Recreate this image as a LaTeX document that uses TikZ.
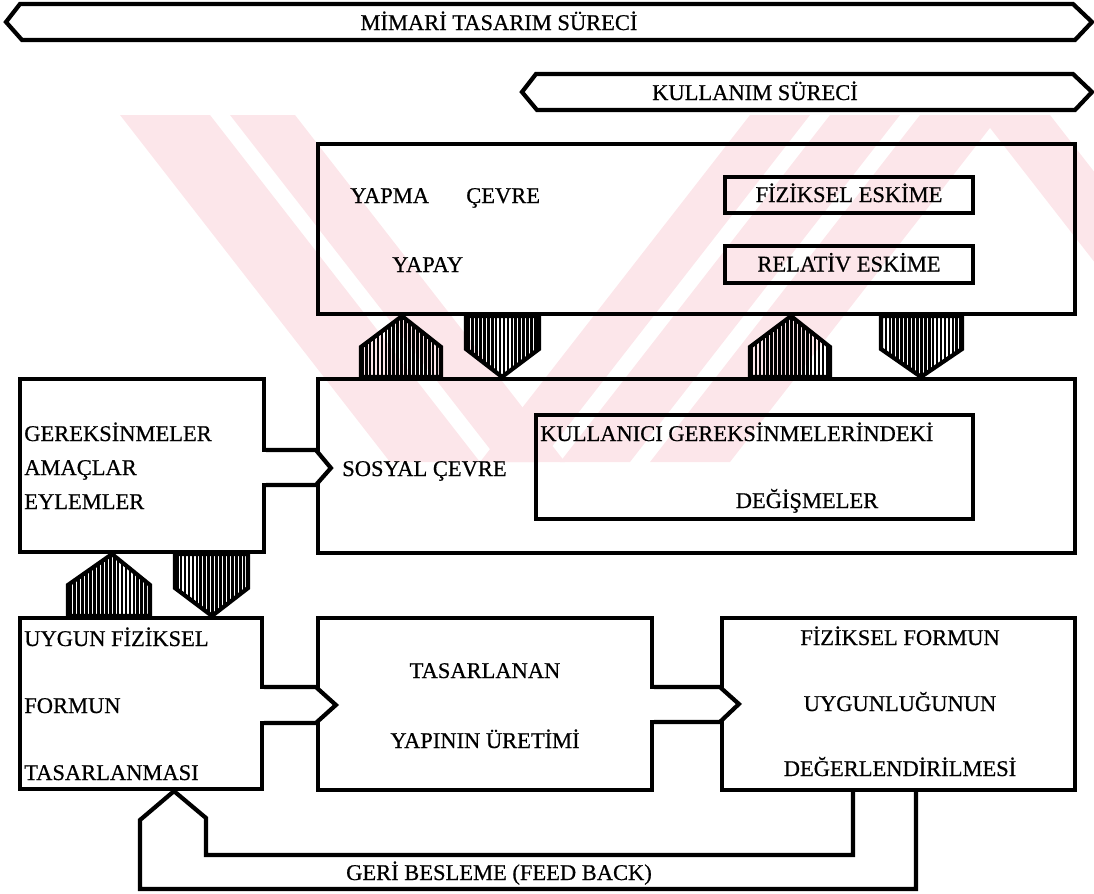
\documentclass[tikz,border=0pt]{standalone}
\usepackage{fontspec}
\setmainfont{Liberation Serif}
\newfontfamily\lblfont{Liberation Serif}[FakeBold=0.6]
\usetikzlibrary{positioning, fit, calc, patterns.meta}
\definecolor{wmark}{HTML}{FCE6EA}
\tikzstyle{box} = [draw, line width=3pt, inner sep=0pt]
\tikzstyle{lbl} = [font=\lblfont\fontsize{16}{19}\selectfont, inner sep=0pt]
\tikzstyle{hatch} = [draw, line width=3pt,
    pattern={Lines[angle=90, distance=2.8pt, line width=1.9pt]}]
\tikzstyle{shaft} = [line width=3pt]

\begin{document}
\begin{tikzpicture}[x=0.025cm, y=-0.025cm, line join=miter]
	\useasboundingbox (0,0) rectangle (1094,894);

	% watermark
	\begin{scope}
		\clip (0,115) rectangle (1094,462);
		\fill[wmark] (120,115) -- (210,115) -- (480,462) -- (390,462) -- cycle;
		\fill[wmark] (230,115) -- (295,115) -- (565,462) -- (500,462) -- cycle;
		\fill[wmark] (750,115) -- (810,115) -- (540,462) -- (480,462) -- cycle;
		\fill[wmark] (830,115) -- (900,115) -- (630,462) -- (560,462) -- cycle;
		\fill[wmark] (920,115) -- (1000,115) -- (730,462) -- (650,462) -- cycle;
		\fill[wmark] (980,115) -- (1050,115) -- (1320,462) -- (1250,462) -- cycle;
	\end{scope}

	% process banners
	\draw[shaft] (6,22) -- (20,4) -- (1073,4) -- (1092,22) -- (1075,40) -- (22,40) -- cycle;
	\node[lbl, anchor=base] (mimari) at (499,30) {MİMARİ TASARIM SÜRECİ};
	\draw[shaft] (522,92) -- (536,74) -- (1073,74) -- (1092,92) -- (1075,110) -- (537,110) -- cycle;
	\node[lbl, anchor=base] (kullanim) at (755,100) {KULLANIM SÜRECİ};

	% yapma cevre
	\node[box, fit={(318,144) (1075,314)}] (yapma) {};
	\node[lbl, anchor=base west] (yapmat) at (350,203) {YAPMA};
	\node[lbl, anchor=base west] (cevret) at (466,203) {ÇEVRE};
	\node[lbl, anchor=base west] (yapay) at (392,272) {YAPAY};
	\node[box, fit={(725,177) (973,213)}] (fizesk) {};
	\node[lbl, anchor=base] at ($(fizesk.center)+(0,7)$) (fizeskt) {FİZİKSEL ESKİME};
	\node[box, fit={(725,246) (973,283)}] (relesk) {};
	\node[lbl, anchor=base] at ($(relesk.center)+(0,7)$) (releskt) {RELATİV ESKİME};

	% sosyal cevre
	\node[box, fit={(318,379) (1075,553)}] (sosyal) {};
	\node[lbl, anchor=base west] (sosyalt) at (342,476) {SOSYAL ÇEVRE};
	\node[box, fit={(536,415) (973,519)}] (degis) {};
	\node[lbl, anchor=base west] (kullt) at (540,441) {KULLANICI GEREKSİNMELERİNDEKİ};
	\node[lbl, anchor=base] (degist) at (807,508) {DEĞİŞMELER};

	% gereksinmeler
	\node[box, fit={(20,379) (264,552)}] (gerek) {};
	\node[lbl, anchor=base west] (gerekt) at (24,441) {GEREKSİNMELER};
	\node[lbl, anchor=base west] (amac) at (24,475) {AMAÇLAR};
	\node[lbl, anchor=base west] (eylem) at (24,509) {EYLEMLER};

	% alt sira
	\node[box, fit={(20,618) (262,789)}] (uygun) {};
	\node[lbl, anchor=base west] (uygun1) at (24,646) {UYGUN FİZİKSEL};
	\node[lbl, anchor=base west] (uygun2) at (24,713) {FORMUN};
	\node[lbl, anchor=base west] (uygun3) at (24,780) {TASARLANMASI};

	\node[box, fit={(318,618) (652,790)}] (tasar) {};
	\node[lbl, anchor=base] (tasar1) at (485,678) {TASARLANAN};
	\node[lbl, anchor=base] (tasar2) at (485,748) {YAPININ ÜRETİMİ};

	\node[box, fit={(722,618) (1075,790)}] (fizform) {};
	\node[lbl, anchor=base] (form1) at (900,645) {FİZİKSEL FORMUN};
	\node[lbl, anchor=base] (form2) at (900,711) {UYGUNLUĞUNUN};
	\node[lbl, anchor=base] (form3) at (900,776) {DEĞERLENDİRİLMESİ};

	% openings in the box edges
	\fill[white] ($(gerek.east |- 0,452)+(-4,0)$) rectangle ($(gerek.east |- 0,483)+(4,0)$);
	\fill[white] ($(sosyal.west |- 0,452)+(-4,0)$) rectangle ($(sosyal.west |- 0,483)+(4,0)$);
	\fill[white] ($(uygun.east |- 0,689)+(-4,0)$) rectangle ($(uygun.east |- 0,721)+(4,0)$);
	\fill[white] ($(tasar.west |- 0,689)+(-4,0)$) rectangle ($(tasar.west |- 0,721)+(4,0)$);
	\fill[white] ($(tasar.east |- 0,689)+(-4,0)$) rectangle ($(tasar.east |- 0,720)+(4,0)$);
	\fill[white] ($(fizform.west |- 0,689)+(-4,0)$) rectangle ($(fizform.west |- 0,720)+(4,0)$);

	% wide arrows
	\draw[shaft] (gerek.east |- 0,450) -- (sosyal.west |- 0,450)
		-- ($(sosyal.west |- 0,468)+(15,0)$) -- (sosyal.west |- 0,485) -- (gerek.east |- 0,485);
	\draw[shaft] (uygun.east |- 0,687) -- (tasar.west |- 0,687)
		-- ($(tasar.west |- 0,705)+(20,0)$) -- (tasar.west |- 0,723) -- (uygun.east |- 0,723);
	\draw[shaft] (tasar.east |- 0,687) -- (fizform.west |- 0,687)
		-- ($(fizform.west |- 0,704)+(19,0)$) -- (fizform.west |- 0,722) -- (tasar.east |- 0,722);

	% hatched arrows
	\draw[hatch] (361,0 |- sosyal.north) -- (361,347) -- (402,0 |- yapma.south)
		-- (441,347) -- (441,0 |- sosyal.north) -- cycle;
	\draw[hatch] (466,0 |- yapma.south) -- (466,349) -- (502,0 |- sosyal.north)
		-- (539,349) -- (539,0 |- yapma.south) -- cycle;
	\draw[hatch] (750,0 |- sosyal.north) -- (750,347) -- (791,0 |- yapma.south)
		-- (830,347) -- (830,0 |- sosyal.north) -- cycle;
	\draw[hatch] (881,0 |- yapma.south) -- (881,349) -- (921,0 |- sosyal.north)
		-- (962,349) -- (962,0 |- yapma.south) -- cycle;
	\draw[hatch] (68,0 |- uygun.north) -- (68,585) -- (112,0 |- gerek.south)
		-- (150,585) -- (150,0 |- uygun.north) -- cycle;
	\draw[hatch] (175,0 |- gerek.south) -- (175,588) -- (212,0 |- uygun.north)
		-- (248,588) -- (248,0 |- gerek.south) -- cycle;

	% geri besleme
	\draw[shaft] (853,0 |- fizform.south) -- (853,855) -- (206,855) -- (206,818)
		-- (174,0 |- uygun.south) -- (140,820) -- (140,889) -- (916,889)
		-- (916,0 |- fizform.south);
	\node[lbl, anchor=base] (geri) at (499,880) {GERİ BESLEME (FEED BACK)};
\end{tikzpicture}
\end{document}
